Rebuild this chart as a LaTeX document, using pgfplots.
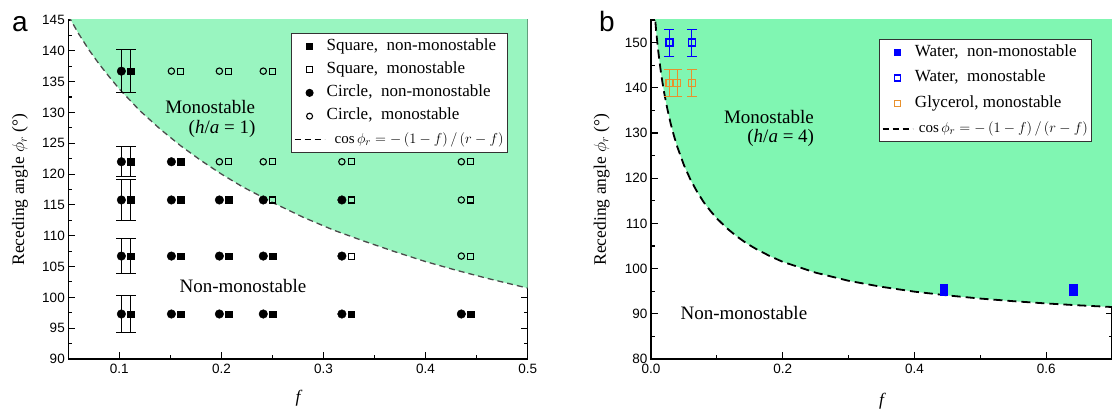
\documentclass[border=0pt]{standalone}
\usepackage{fontspec}
\setmainfont{Liberation Serif}
\setsansfont{Liberation Sans}
\usepackage{pgfplots}
\pgfplotsset{compat=1.18}

\definecolor{mintA}{RGB}{153,245,192}
\definecolor{mintB}{RGB}{128,246,178}
\definecolor{glyc}{RGB}{232,145,45}
\definecolor{wblue}{RGB}{0,0,255}
\definecolor{curveA}{RGB}{75,75,75}

\pgfplotsset{
  panel/.style={
    scale only axis,
    height=339pt,
    axis line style={line width=1.1pt},
    every tick/.style={black, line width=1.1pt},
    major tick length=6.5pt,
    minor tick length=3.5pt,
    tick align=inside,
    /pgf/number format/assume math mode=true,
    tick label style={font=\sffamily\fontsize{13.5}{15}\selectfont},
    xticklabel style={yshift=-2pt, /pgf/number format/.cd, fixed, fixed zerofill, precision=1},
    label style={font=\fontsize{17.5}{19}\selectfont},
    error bars/error bar style={line width=1pt},
    error bars/error mark options={rotate=90, mark size=5pt, line width=1pt},
    legend cell align=left,
    legend style={draw=black!80, line width=0.8pt, fill=white,
      font=\fontsize{17}{19}\selectfont,
      inner xsep=2.5pt, inner ysep=4.25pt,
      nodes={inner sep=1.5pt, text height=11pt, text depth=3.5pt}},
    legend image code/.code={%
      \draw[mark repeat=2, mark phase=2, #1] plot coordinates {(0pt,0pt) (15pt,0pt) (30pt,0pt)};},
  },
}
\newcommand{\cosrule}{{\fontsize{15}{17}\selectfont$\cos\phi_r = -\left(1-f\right)/\left(r-f\right)$}}

\begin{document}
\begin{tikzpicture}
\useasboundingbox (0,0) rectangle (1112pt,414pt);

% ---------------- panel a ----------------
\begin{axis}[panel,
    at={(68.3pt,55pt)}, anchor=south west, width=459.4pt,
    xmin=0.05, xmax=0.5, ymin=90, ymax=145,
    xtick={0.1,0.2,0.3,0.4,0.5}, minor x tick num=1,
    ytick={90,95,...,145}, minor y tick num=1,
    xlabel={\itshape f},
    xlabel style={at={(axis description cs:0.5,-0.115)}, anchor=center},
    ylabel={Receding angle $\phi_r$ (°)},
    ylabel style={at={(axis description cs:-0.105,0.5)}, anchor=center},
    legend style={at={(0.957,0.962)}, anchor=north east, row sep=5.8pt},
]
% monostable region above the curve
\addplot[fill=mintA, draw=none, forget plot] coordinates {
  (0.05,145.7) (0.06,142.8) (0.07,140.2) (0.08,137.9) (0.09,135.8)
  (0.10,133.8) (0.12,130.3) (0.14,127.3) (0.16,124.6) (0.18,122.2)
  (0.20,120.0) (0.22,118.0) (0.25,115.4) (0.28,113.0) (0.31,110.9)
  (0.34,109.1) (0.37,107.4) (0.40,105.8) (0.43,104.4) (0.46,103.1)
  (0.50,101.5) (0.50,150) (0.05,150)} -- cycle;
\addplot[curveA, line width=1.3pt, dash pattern=on 6pt off 4pt, forget plot] coordinates {
  (0.05,145.7) (0.06,142.8) (0.07,140.2) (0.08,137.9) (0.09,135.8)
  (0.10,133.8) (0.12,130.3) (0.14,127.3) (0.16,124.6) (0.18,122.2)
  (0.20,120.0) (0.22,118.0) (0.25,115.4) (0.28,113.0) (0.31,110.9)
  (0.34,109.1) (0.37,107.4) (0.40,105.8) (0.43,104.4) (0.46,103.1)
  (0.50,101.5)};

% circles, non-monostable, with error bars at f = 0.1
\addplot[only marks, mark=*, mark size=4.3pt, black, forget plot,
  error bars/.cd, y dir=both, y explicit] coordinates {
  (0.102,136.7) +- (0,3.5)
  (0.102,122.0) +- (0,2.4)
  (0.102,115.8) +- (0,3.3)
  (0.102,106.7) +- (0,2.9)
  (0.102,97.3) +- (0,2.95)};
\addplot[only marks, mark=*, mark size=4.3pt, black, forget plot] coordinates {
  (0.151,122.0) (0.151,115.8) (0.151,106.7) (0.151,97.3)
  (0.198,115.8) (0.198,106.7) (0.198,97.3)
  (0.241,115.8) (0.241,106.7) (0.241,97.3)
  (0.318,115.8) (0.318,106.7) (0.318,97.3)
  (0.435,97.3)};
% circles, monostable
\addplot[only marks, mark=o, mark size=3.2pt, black, line width=1.1pt,
  mark options={fill=white}, forget plot] coordinates {
  (0.151,136.7) (0.198,136.7) (0.241,136.7)
  (0.198,122.0) (0.241,122.0) (0.318,122.0) (0.435,122.0)
  (0.435,115.8) (0.435,106.7)};
% squares, non-monostable
\addplot[only marks, mark=square*, mark size=3.3pt, black, forget plot,
  error bars/.cd, y dir=both, y explicit] coordinates {
  (0.111,136.7) +- (0,3.5)
  (0.111,122.0) +- (0,2.4)
  (0.111,115.8) +- (0,3.3)
  (0.111,106.7) +- (0,2.9)
  (0.111,97.3) +- (0,2.95)};
\addplot[only marks, mark=square*, mark size=3.3pt, black, forget plot] coordinates {
  (0.160,122.0) (0.160,115.8) (0.160,106.7) (0.160,97.3)
  (0.207,115.8) (0.207,106.7) (0.207,97.3)
  (0.250,106.7) (0.250,97.3)
  (0.327,97.3)
  (0.444,97.3)};
% squares, monostable
\addplot[only marks, mark=square, mark size=3pt, black, line width=1.1pt,
  mark options={fill=white}, forget plot] coordinates {
  (0.160,136.7) (0.207,136.7) (0.250,136.7)
  (0.207,122.0) (0.250,122.0) (0.327,122.0) (0.444,122.0)
  (0.250,115.8) (0.327,115.8) (0.444,115.8)
  (0.327,106.7) (0.444,106.7)};

\node[font=\fontsize{19}{21}\selectfont] at (axis cs:0.189,130.9) {Monostable};
\node[font=\fontsize{19}{21}\selectfont] at (axis cs:0.2006,127.3) {(\textit{h}/\textit{a} = 1)};
\node[font=\fontsize{19}{21}\selectfont] at (axis cs:0.2211,101.85) {Non-monostable};

\addlegendimage{only marks, mark=square*, mark size=3.3pt, black}
\addlegendentry{Square,~ non-monostable}
\addlegendimage{only marks, mark=square, mark size=3pt, black, line width=1.1pt, mark options={fill=white}}
\addlegendentry{Square,~ monostable}
\addlegendimage{only marks, mark=*, mark size=3.6pt, black}
\addlegendentry{Circle,~ non-monostable}
\addlegendimage{only marks, mark=o, mark size=3pt, black, line width=1.1pt, mark options={fill=white}}
\addlegendentry{Circle,~ monostable}
\addlegendimage{black, line width=1.3pt, dash pattern=on 6pt off 4pt}
\addlegendentry{\hspace{8pt}\cosrule}
\end{axis}

% ---------------- panel b ----------------
\begin{axis}[panel,
    at={(651pt,55pt)}, anchor=south west, width=461pt,
    xmin=0, xmax=0.7, ymin=80, ymax=155,
    xtick={0,0.2,0.4,0.6}, minor x tick num=1,
    ytick={80,90,...,150}, minor y tick num=1,
    xlabel={\itshape f},
    xlabel style={at={(axis description cs:0.5,-0.124)}, anchor=center},
    ylabel={Receding angle $\phi_r$ (°)},
    ylabel style={at={(axis description cs:-0.107,0.5)}, anchor=center},
    legend style={at={(0.957,0.944)}, anchor=north east, row sep=8pt},
]
\addplot[fill=mintB, draw=none, forget plot] coordinates {
  (0.005,157.7) (0.0065,154.9) (0.008,152.3) (0.01,149.4) (0.0125,146.3)
  (0.015,143.5) (0.0175,141.1) (0.02,138.9) (0.025,135.2) (0.03,132.0)
  (0.035,129.3) (0.04,126.9) (0.05,122.9) (0.06,119.65) (0.07,117.0)
  (0.08,114.7) (0.09,112.8) (0.10,111.1) (0.115,108.95) (0.13,107.15)
  (0.145,105.6) (0.16,104.3) (0.18,102.8) (0.20,101.5) (0.25,99.1)
  (0.30,97.3) (0.35,95.97) (0.40,94.9) (0.45,94.07) (0.50,93.37)
  (0.55,92.79) (0.60,92.29) (0.65,91.87) (0.70,91.5)
  (0.70,160) (0.005,160)} -- cycle;
\addplot[black, line width=1.8pt, dash pattern=on 9pt off 5pt, forget plot] coordinates {
  (0.005,157.7) (0.0065,154.9) (0.008,152.3) (0.01,149.4) (0.0125,146.3)
  (0.015,143.5) (0.0175,141.1) (0.02,138.9) (0.025,135.2) (0.03,132.0)
  (0.035,129.3) (0.04,126.9) (0.05,122.9) (0.06,119.65) (0.07,117.0)
  (0.08,114.7) (0.09,112.8) (0.10,111.1) (0.115,108.95) (0.13,107.15)
  (0.145,105.6) (0.16,104.3) (0.18,102.8) (0.20,101.5) (0.25,99.1)
  (0.30,97.3) (0.35,95.97) (0.40,94.9) (0.45,94.07) (0.50,93.37)
  (0.55,92.79) (0.60,92.29) (0.65,91.87) (0.70,91.5)};

% water, non-monostable
\addplot[only marks, mark=square*, mark size=3.6pt, wblue, forget plot] coordinates {
  (0.444,94.9) (0.444,95.7) (0.641,94.9) (0.641,95.7)};
% water, monostable
\addplot[only marks, mark=square, mark size=3.5pt, wblue, line width=1.2pt,
  mark options={fill=white, draw=wblue}, forget plot,
  error bars/.cd, y dir=both, y explicit,
  error bar style={wblue, line width=1pt},
  error mark options={rotate=90, mark size=5pt, line width=1pt, wblue}] coordinates {
  (0.028,150) +- (0,3)
  (0.062,150) +- (0,3)};
% glycerol, monostable
\addplot[only marks, mark=square, mark size=3.5pt, glyc, line width=1.2pt,
  mark options={fill=white, draw=glyc}, forget plot,
  error bars/.cd, y dir=both, y explicit,
  error bar style={glyc, line width=1pt},
  error mark options={rotate=90, mark size=5pt, line width=1pt, glyc}] coordinates {
  (0.028,141) +- (0,3)
  (0.040,141) +- (0,3)
  (0.062,141) +- (0,3)};

\node[font=\fontsize{19}{21}\selectfont] at (axis cs:0.179,133.5) {Monostable};
\node[font=\fontsize{19}{21}\selectfont] at (axis cs:0.197,128.9) {(\textit{h}/\textit{a} = 4)};
\node[font=\fontsize{19}{21}\selectfont] at (axis cs:0.141,90.2) {Non-monostable};

\addlegendimage{only marks, mark=square*, mark size=3.3pt, wblue}
\addlegendentry{Water,~ non-monostable}
\addlegendimage{only marks, mark=square, mark size=3pt, wblue, line width=1.3pt, mark options={fill=white, draw=wblue}}
\addlegendentry{Water,~ monostable}
\addlegendimage{only marks, mark=square, mark size=3pt, glyc, line width=1.3pt, mark options={fill=white, draw=glyc}}
\addlegendentry{Glycerol, monostable}
\addlegendimage{black, line width=1.8pt, dash pattern=on 6pt off 4pt}
\addlegendentry{\hspace{4pt}\cosrule}
\end{axis}

\node[font=\sffamily\fontsize{28}{30}\selectfont, inner sep=0pt, anchor=base west] at (12pt,382pt) {a};
\node[font=\sffamily\fontsize{28}{30}\selectfont, inner sep=0pt, anchor=base west] at (599pt,382pt) {b};
\end{tikzpicture}
\end{document}
